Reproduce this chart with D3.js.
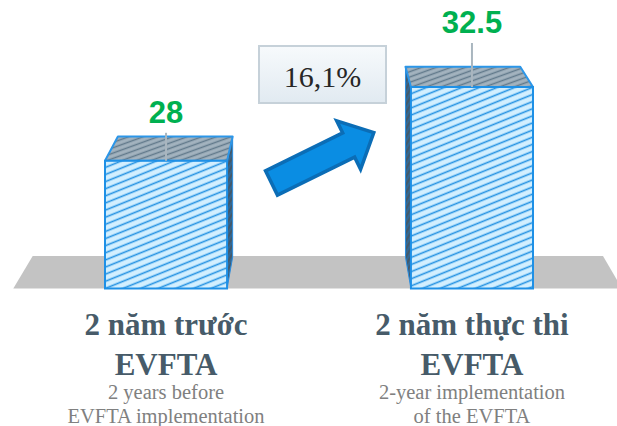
<!DOCTYPE html>
<html>
<head>
<meta charset="utf-8">
<script src="https://cdn.jsdelivr.net/npm/d3@7"></script>
<style>
    body { margin: 0; background: #ffffff; }
    svg { display: block; }
</style>
</head>
<body>
<script>
"use strict";
(function(){
    // Data
    const periods = ["before", "after"]
    const values = [28, 32.5]
    const valueLabels = ["28", "32.5"]
    const titleLines = [["2 năm trước", "EVFTA"], ["2 năm thực thi", "EVFTA"]]
    const subLines = [["2 years before", "EVFTA implementation"], ["2-year implementation", "of the EVFTA"]]
    const growthLabel = "16,1%"

    // Dimensions
    const measurements = {
        width: 617,
        height: 426,
        floorTop: 256,
        floorBottom: 288.5
    }

    // Perspective settings for the fake 3D boxes
    const persp = { vpx: 320, ax: 0.06, vpy: -280, ay: 0.055 }
    function back(x, y) {
        return [x + persp.ax * (persp.vpx - x), y - persp.ay * (y - persp.vpy)]
    }

    const svg = d3.select("body").append("svg")
        .attr("width", measurements.width)
        .attr("height", measurements.height)

    // Patterns for the hatched faces
    const defs = svg.append("defs")
    function hatch(id, bg, fg, angle, gap, sw) {
        const p = defs.append("pattern")
            .attr("id", id)
            .attr("patternUnits", "userSpaceOnUse")
            .attr("width", 16)
            .attr("height", gap)
            .attr("patternTransform", "rotate(" + angle + ")")
        p.append("rect").attr("width", 16).attr("height", gap).attr("fill", bg)
        p.append("line")
            .attr("x1", 0).attr("x2", 16)
            .attr("y1", gap / 2).attr("y2", gap / 2)
            .attr("stroke", fg)
            .attr("stroke-width", sw)
    }
    hatch("frontHatch", "#d2efff", "#2592e2", -22, 6.6, 1.6)
    hatch("topHatch", "#a3b3bf", "#61798b", -20, 5, 1.5)
    hatch("sideHatch", "#44596a", "#2a6fa8", -60, 4, 1.3)

    const boxGrad = defs.append("linearGradient")
        .attr("id", "boxGrad")
        .attr("x1", 0).attr("x2", 0).attr("y1", 0).attr("y2", 1)
    boxGrad.append("stop").attr("offset", "0%").attr("stop-color", "#f7fafc")
    boxGrad.append("stop").attr("offset", "100%").attr("stop-color", "#e1eaf1")

    // Scales
    const x = d3.scaleBand()
        .domain(periods)
        .range([105, 533])
        .paddingInner(0.601)
        .paddingOuter(0)
    const y = d3.scaleLinear()
        .domain([20, 35])
        .range([292, 46])

    // Floor
    svg.append("polygon")
        .attr("points", [[32.7, measurements.floorTop], [603, measurements.floorTop],
            [622, measurements.floorBottom], [13.3, measurements.floorBottom]].join(" "))
        .attr("fill", "#c3c3c3")

    const bars = periods.map((p, i) => {
        const x0 = x(p), x1 = x(p) + x.bandwidth()
        return { p: p, i: i, x0: x0, x1: x1, top: y(values[i]), bottom: measurements.floorBottom }
    })

    // Side faces
    bars.forEach(b => {
        let edge = null
        if (b.x0 > persp.vpx) edge = b.x0
        if (b.x1 < persp.vpx) edge = b.x1
        if (edge === null) return
        const bt = back(edge, b.top), bb = back(edge, b.bottom)
        svg.append("polygon")
            .attr("points", [[edge, b.top], bt, bb, [edge, b.bottom]].join(" "))
            .attr("fill", "url(#sideHatch)")
            .attr("stroke", "#2a8de0")
            .attr("stroke-width", 1)
    })

    // Top faces
    svg.selectAll(".topFace")
        .data(bars)
        .enter()
        .append("polygon")
            .attr("class", "topFace")
            .attr("points", b => [[b.x0, b.top], [b.x1, b.top], back(b.x1, b.top), back(b.x0, b.top)].join(" "))
            .attr("fill", "url(#topHatch)")
            .attr("stroke", "#2c96e8")
            .attr("stroke-width", 2)
            .attr("stroke-linejoin", "round")

    // Front faces
    svg.selectAll(".frontFace")
        .data(bars)
        .enter()
        .append("rect")
            .attr("class", "frontFace")
            .attr("x", b => b.x0)
            .attr("y", b => b.top)
            .attr("width", x.bandwidth())
            .attr("height", b => b.bottom - b.top)
            .attr("fill", "url(#frontHatch)")
            .attr("stroke", "#1e90e6")
            .attr("stroke-width", 2)

    // Leader lines and value labels
    const labelLift = [38, 54]
    bars.forEach(b => {
        const cx = b.x0 + x.bandwidth() / 2
        const base = b.top - labelLift[b.i]
        svg.append("line")
            .attr("x1", cx).attr("x2", cx)
            .attr("y1", base + 10).attr("y2", b.top)
            .attr("stroke", "#a9b6bf")
            .attr("stroke-width", 2)
        svg.append("text")
            .attr("x", cx)
            .attr("y", base)
            .attr("text-anchor", "middle")
            .attr("font-family", "Liberation Sans, Arial, sans-serif")
            .attr("font-weight", "bold")
            .attr("font-size", 31)
            .attr("fill", "#00b050")
            .text(valueLabels[b.i])
    })

    // Growth box
    svg.append("rect")
        .attr("x", 259).attr("y", 46)
        .attr("width", 127).attr("height", 57)
        .attr("fill", "url(#boxGrad)")
        .attr("stroke", "#c6d1d9")
        .attr("stroke-width", 2)
    svg.append("text")
        .attr("x", 322.5).attr("y", 87)
        .attr("text-anchor", "middle")
        .attr("font-family", "Liberation Serif, Times New Roman, serif")
        .attr("font-size", 30)
        .attr("fill", "#262626")
        .text(growthLabel)

    // Arrow
    const arrow = { len: 114, shaft: 27, head: 54, headLen: 28 }
    const arrowPts = [
        [0, -arrow.shaft / 2], [arrow.len - arrow.headLen, -arrow.shaft / 2],
        [arrow.len - arrow.headLen, -arrow.head / 2], [arrow.len, 0],
        [arrow.len - arrow.headLen, arrow.head / 2], [arrow.len - arrow.headLen, arrow.shaft / 2],
        [0, arrow.shaft / 2]
    ]
    svg.append("polygon")
        .attr("points", arrowPts.join(" "))
        .attr("transform", "translate(271.5,183) rotate(-26.2)")
        .attr("fill", "#0a8de3")
        .attr("stroke", "#0b6db6")
        .attr("stroke-width", 3.5)
        .attr("stroke-linejoin", "miter")

    // Category titles under the floor
    bars.forEach(b => {
        const cx = b.x0 + x.bandwidth() / 2
        titleLines[b.i].forEach((t, j) => {
            svg.append("text")
                .attr("x", cx)
                .attr("y", 335 + j * 40)
                .attr("text-anchor", "middle")
                .attr("font-family", "Liberation Serif, Times New Roman, serif")
                .attr("font-weight", "bold")
                .attr("font-size", 31)
                .attr("fill", "#475b69")
                .text(t)
        })
        subLines[b.i].forEach((t, j) => {
            svg.append("text")
                .attr("x", cx)
                .attr("y", 399 + j * 23.5)
                .attr("text-anchor", "middle")
                .attr("font-family", "Liberation Serif, Times New Roman, serif")
                .attr("font-size", 20.5)
                .attr("fill", "#808080")
                .text(t)
        })
    })
})()
</script>
</body>
</html>
